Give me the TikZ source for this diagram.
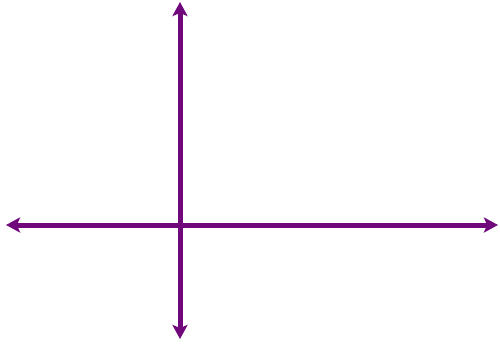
\documentclass[tikz,border=0pt]{standalone}
\usetikzlibrary{arrows.meta}
\definecolor{axpurple}{RGB}{112,8,124}
\tikzset{axisline/.style={axpurple,line width=5pt,{Stealth[length=14pt,width=15pt,inset=3pt]}-{Stealth[length=14pt,width=15pt,inset=3pt]}}}
\begin{document}
\begin{tikzpicture}[x=1pt,y=-1pt]
\useasboundingbox (0,0) rectangle (500,345);
\coordinate (L) at (6,225);
\coordinate (R) at (498,225);
\coordinate (T) at (180,2);
\coordinate (B) at (180,339);
\draw[axisline] (L) -- (R);
\draw[axisline] (T) -- (B);
\end{tikzpicture}
\end{document}
